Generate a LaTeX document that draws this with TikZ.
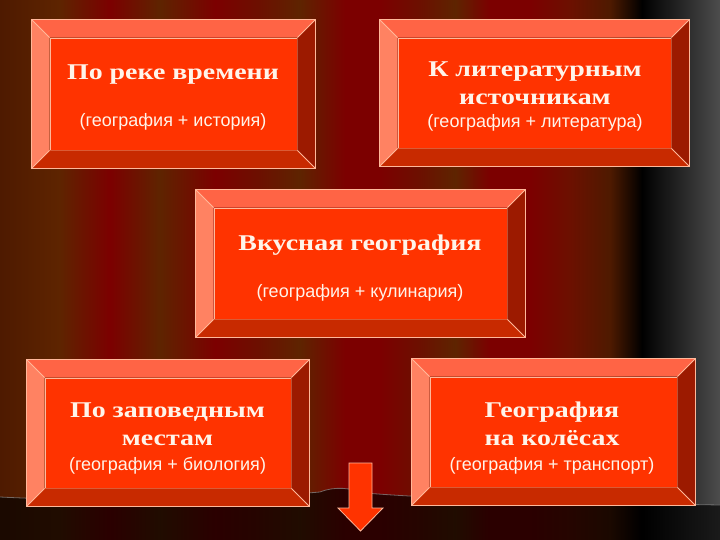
\documentclass[tikz,border=0pt]{standalone}
\usepackage{fontspec}
\setmainfont{Liberation Serif}
\newfontfamily\titlefont[FakeStretch=1.24]{Liberation Serif}
\newfontfamily\subfont{Liberation Sans}
\usetikzlibrary{calc}

\definecolor{face}{HTML}{FF3300}
\definecolor{bevtop}{HTML}{FF6445}
\definecolor{bevleft}{HTML}{FF8262}
\definecolor{bevright}{HTML}{9C1A00}
\definecolor{bevbot}{HTML}{C82A00}
\definecolor{edge}{HTML}{FFB89A}
\definecolor{txt}{HTML}{FFF4EA}
\definecolor{cbrown}{HTML}{4E1A00}
\definecolor{cbrownb}{HTML}{5E2400}
\definecolor{cred}{HTML}{7C0000}
\definecolor{credb}{HTML}{6C1000}

\tikzset{
  facebox/.style={fill=face, draw=edge, line width=0.8pt, inner sep=0pt},
  title/.style={text=txt, font=\titlefont\fontsize{22.5}{26}\selectfont\bfseries, anchor=base, inner sep=0pt},
  subtitle/.style={text=txt, font=\subfont\fontsize{18}{21}\selectfont, anchor=base, inner sep=0pt},
  edgeline/.style={draw=edge, line width=0.8pt},
}

% #1 node name, #2 bevel size
\newcommand{\bevelit}[2]{%
  \coordinate (#1-a) at ($(#1.north west)+(-#2pt,#2pt)$);
  \coordinate (#1-b) at ($(#1.north east)+(#2pt,#2pt)$);
  \coordinate (#1-c) at ($(#1.south east)+(#2pt,-#2pt)$);
  \coordinate (#1-d) at ($(#1.south west)+(-#2pt,-#2pt)$);
  \fill[bevtop] (#1-a) -- (#1-b) -- (#1.north east) -- (#1.north west) -- cycle;
  \fill[bevright] (#1-b) -- (#1-c) -- (#1.south east) -- (#1.north east) -- cycle;
  \fill[bevbot] (#1-c) -- (#1-d) -- (#1.south west) -- (#1.south east) -- cycle;
  \fill[bevleft] (#1-d) -- (#1-a) -- (#1.north west) -- (#1.south west) -- cycle;
  \draw[edgeline] (#1-a) -- (#1-b) -- (#1-c) -- (#1-d) -- cycle;
  \draw[edgeline] (#1-a) -- (#1.north west) (#1-b) -- (#1.north east)
                  (#1-c) -- (#1.south east) (#1-d) -- (#1.south west);
}

\begin{document}
\begin{tikzpicture}[x=1pt,y=-1pt]
\useasboundingbox (0,0) rectangle (720,540);
% curtain background
\foreach \xa/\xb/\ca/\cb in {
  0/60/cbrown/cbrownb, 60/110/cbrownb/cred, 110/160/cred/cbrownb,
  160/215/cbrownb/cred, 215/260/cred/credb, 260/300/credb/cbrownb,
  300/345/cbrownb/cred, 345/380/cred/cred, 380/420/cred/credb,
  420/455/credb/cbrownb, 455/490/cbrownb/cred, 490/530/cred/cred,
  530/570/cred/credb, 570/610/credb/cbrown, 610/642/cbrown/black,
  642/720/black/black!70!white}
  \fill[left color=\ca, right color=\cb] (\xa,-1) rectangle (\xb,541);
% stage floor
\fill[black, opacity=0.65]
  (0,497) .. controls (120,503) and (250,498) .. (320,492)
  .. controls (335,486) and (350,488) .. (365,493)
  .. controls (450,500) and (600,503) .. (720,505)
  -- (720,541) -- (0,541) -- cycle;
\draw[black!45!white, line width=0.8pt, opacity=0.7]
  (0,497) .. controls (120,503) and (250,498) .. (320,492)
  .. controls (335,486) and (350,488) .. (365,493)
  .. controls (450,500) and (600,503) .. (720,505);

% boxes
\node[facebox, minimum width=247pt, minimum height=112pt] (b1) at (173.5,94) {};
\bevelit{b1}{18}
\node[facebox, minimum width=273pt, minimum height=110pt] (b2) at (534.5,93) {};
\bevelit{b2}{18}
\node[facebox, minimum width=293pt, minimum height=111pt] (b3) at (360.5,263.5) {};
\bevelit{b3}{18}
\node[facebox, minimum width=246pt, minimum height=110pt] (b4) at (168,433) {};
\bevelit{b4}{18}
\node[facebox, minimum width=247pt, minimum height=110pt] (b5) at (553.5,432) {};
\bevelit{b5}{18}

% texts
\node[title] (t1a) at (173,80) {По реке времени};
\node[subtitle] (t1b) at (173,127) {(география + история)};

\node[title] (t2a) at (535,77) {К литературным};
\node[title] (t2b) at (535,105) {источникам};
\node[subtitle] (t2c) at (535,128) {(география + литература)};

\node[title] (t3a) at (360,250) {Вкусная география};
\node[subtitle] (t3b) at (360,297) {(география + кулинария)};

\node[title] (t4a) at (167.5,417) {По заповедным};
\node[title] (t4b) at (167.5,445) {местам};
\node[subtitle] (t4c) at (167.5,470) {(география + биология)};

\node[title] (t5a) at (552,417) {География};
\node[title] (t5b) at (552,445) {на колёсах};
\node[subtitle] (t5c) at (552,470) {(география + транспорт)};

% down arrow
\fill[face, draw=edge, line width=0.8pt]
  (349,463) -- (372,463) -- (372,508) -- (383,508) -- (360.5,531)
  -- (338,508) -- (349,508) -- cycle;
\end{tikzpicture}
\end{document}
